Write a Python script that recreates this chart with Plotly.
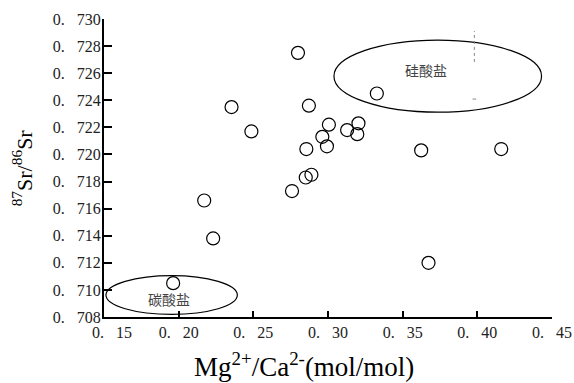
import plotly.graph_objects as go

# Data
mg_ca = [0.1963, 0.2171, 0.2231, 0.2354, 0.2487, 0.2799, 0.3327, 0.2872, 0.3006, 0.3204,
         0.3128, 0.3196, 0.2962, 0.2993, 0.2855, 0.3624, 0.4160, 0.2889, 0.2851, 0.2759, 0.3673]
sr_ratio = [0.7105, 0.7166, 0.7138, 0.7235, 0.7217, 0.7275, 0.7245, 0.7236, 0.7222, 0.7223,
            0.7218, 0.7215, 0.7213, 0.7206, 0.7204, 0.7203, 0.7204, 0.7185, 0.7183, 0.7173, 0.7120]

x_ticks = [0.15, 0.20, 0.25, 0.30, 0.35, 0.40, 0.45]
x_ticklabels = ["0. 15", "0. 20", "0. 25", "0. 30", "0. 35", "0. 40", "0. 45"]
y_ticks = [0.708, 0.710, 0.712, 0.714, 0.716, 0.718, 0.720, 0.722, 0.724, 0.726, 0.728, 0.730]
y_ticklabels = ["0. 708", "0. 710", "0. 712", "0. 714", "0. 716", "0. 718",
                "0. 720", "0. 722", "0. 724", "0. 726", "0. 728", "0. 730"]

# Field ellipses (region, x-center, x-half-width, y-center, y-half-height)
regions = ["硅酸盐", "碳酸盐"]
region_xc = [0.3735, 0.1953]
region_xr = [0.0695, 0.0440]
region_yc = [0.72578, 0.70962]
region_yr = [0.00266, 0.00143]
label_x = [0.3657, 0.1937]
label_y = [0.7262, 0.7093]

serif = "Liberation Serif"
NB = "\u00a0"


def spaced(label):
    # widen the gap after the decimal point, as in the reference typesetting
    return label.replace(". ", "." + NB * 3)


x_text = [spaced(t) for t in x_ticklabels]
x_text[0] = NB * 4 + x_text[0]  # first label sits right of its tick (clear of the y labels)

fig = go.Figure()
fig.add_trace(go.Scatter(
    x=mg_ca, y=sr_ratio, mode="markers",
    marker=dict(symbol="circle-open", size=13, color="black", line=dict(width=1.2, color="black")),
    showlegend=False, hoverinfo="x+y",
))

for i in range(len(regions)):
    fig.add_shape(type="circle", xref="x", yref="y",
                  x0=region_xc[i] - region_xr[i], x1=region_xc[i] + region_xr[i],
                  y0=region_yc[i] - region_yr[i], y1=region_yc[i] + region_yr[i],
                  line=dict(color="black", width=1.2), layer="below")
    fig.add_annotation(x=label_x[i], y=label_y[i], xref="x", yref="y", text=regions[i],
                       showarrow=False,
                       font=dict(family="Noto Sans CJK SC", size=14, color="#444444"))

# faint scan marks near the silicate ellipse
fig.add_shape(type="line", xref="x", yref="y", x0=0.398, x1=0.398, y0=0.72683, y1=0.72911,
              line=dict(color="#888888", width=1, dash="dot"))
fig.add_shape(type="line", xref="x", yref="y", x0=0.3968, x1=0.3992, y0=0.72409, y1=0.72409,
              line=dict(color="#888888", width=1))

fig.add_annotation(x=-0.218, y=0.50, xref="paper", yref="paper", xanchor="left", yanchor="middle",
                   text="<sup>87</sup>Sr/<sup>86</sup>Sr", textangle=-90, showarrow=False,
                   font=dict(family=serif, size=22, color="black"))
fig.add_annotation(x=0.4475, y=-0.225, xref="paper", yref="paper", xanchor="center", yanchor="bottom",
                   text="Mg<sup>2+</sup>/Ca<sup>2-</sup>(mol/mol)", showarrow=False,
                   font=dict(family=serif, size=27, color="black"))

fig.update_xaxes(range=[0.15, 0.45], tickvals=x_ticks, ticktext=x_text, automargin=False,
                 ticks="inside", ticklen=6, tickwidth=1.5, tickcolor="black",
                 showline=True, linewidth=2, linecolor="black", mirror=False,
                 showgrid=False, zeroline=False,
                 tickfont=dict(family=serif, size=16, color="#222222"))
fig.update_yaxes(range=[0.708, 0.730], tickvals=y_ticks, ticktext=[spaced(t) for t in y_ticklabels],
                 automargin=False,
                 ticks="inside", ticklen=8, tickwidth=1.5, tickcolor="black",
                 showline=True, linewidth=2, linecolor="black", mirror=False,
                 showgrid=False, zeroline=False, ticklabelstandoff=-2,
                 tickfont=dict(family=serif, size=16, color="#222222"))

fig.update_layout(width=574, height=383, margin=dict(l=104, r=22, t=19, b=66, autoexpand=False),
                  plot_bgcolor="white", paper_bgcolor="white")

fig.write_html("out.html", config={"displayModeBar": False},
               post_script="document.body.style.margin='0';")
